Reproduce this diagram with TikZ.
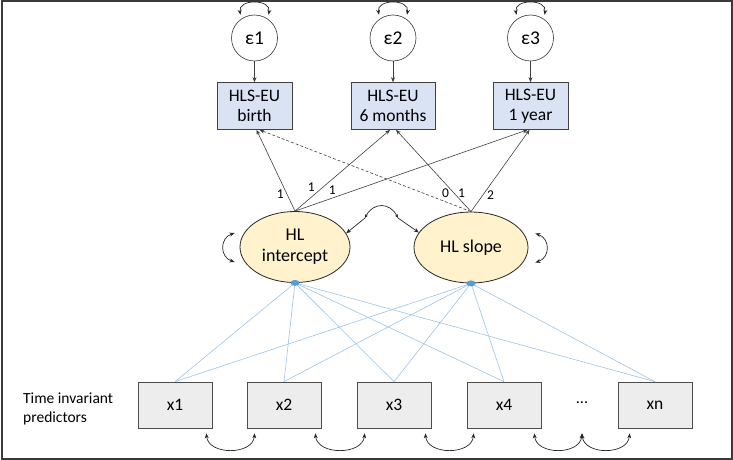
\documentclass[tikz,border=0pt]{standalone}
\usepackage{fontspec}
\setmainfont{Carlito}
\usetikzlibrary{arrows.meta,shapes.geometric,calc}
\definecolor{obsfill}{HTML}{DAE3F3}
\definecolor{latfill}{HTML}{FFF2CC}
\definecolor{predfill}{HTML}{EDEDED}
\definecolor{bluel}{HTML}{9DC3E6}
\definecolor{bluedot}{HTML}{5B9BD5}
\definecolor{framec}{HTML}{3A3A3A}
\begin{document}
\begin{tikzpicture}[x=1pt,y=-1pt,
  tip/.style={-{Stealth[length=5pt,width=4pt]}},
  dtip/.style={{Stealth[length=5pt,width=4pt]}-{Stealth[length=5pt,width=4pt]}},
  stip/.style={{Stealth[length=3.5pt,width=3pt]}-{Stealth[length=3.5pt,width=3pt]}},
  errc/.style={circle,draw=black!80,line width=0.6pt,minimum size=46pt,inner sep=0pt,font=\fontsize{19.5}{22}\selectfont},
  obs/.style={rectangle,draw=black!75,line width=0.7pt,fill=obsfill,minimum height=47pt,align=center,inner sep=0pt,font=\fontsize{17.5}{20.5}\selectfont},
  lat/.style={ellipse,draw=black!85,line width=0.8pt,fill=latfill,minimum height=71pt,inner sep=0pt,align=center,font=\fontsize{18}{21}\selectfont},
  pred/.style={rectangle,draw=black!70,line width=0.7pt,fill=predfill,minimum width=74pt,minimum height=46pt,inner sep=0pt,font=\fontsize{17.5}{20}\selectfont},
  load/.style={draw=black!75,line width=0.6pt,tip},
  reg/.style={draw=bluel,line width=0.6pt},
  curv/.style={draw=black!85,line width=0.7pt},
  lbl/.style={font=\fontsize{13.5}{15}\selectfont,inner sep=1pt}
]
\useasboundingbox (0,0) rectangle (733,460);
\draw[line width=2pt,draw=framec] (1.5,1.5) rectangle (731.5,458.5);

% error terms
\node[errc] (e1) at (254.5,38) {ε1};
\node[errc] (e2) at (393,38) {ε2};
\node[errc] (e3) at (530.5,38) {ε3};

% observed
\node[obs,minimum width=75pt] (b1) at (254.5,106) {HLS-EU\\birth};
\node[obs,minimum width=84pt] (b2) at (393,106) {HLS-EU\\6 months};
\node[obs,minimum width=75pt] (b3) at (530.5,106) {HLS-EU\\1 year};

% latent
\node[lat,minimum width=110pt] (li) at (295,247) {HL\\intercept};
\node[lat,minimum width=114pt] (ls) at (471,247.5) {HL slope};

% predictors
\node[pred] (p1) at (175,405) {x1};
\node[pred] (p2) at (284,405) {x2};
\node[pred] (p3) at (394,405) {x3};
\node[pred] (p4) at (504,405) {x4};
\node[font=\fontsize{16}{20}\selectfont] (dots) at (582,403) {...};
\node[pred] (pn) at (655,405) {xn};
\node[anchor=west,align=left,font=\fontsize{15.5}{18.5}\selectfont,inner sep=0pt] (tip-label) at (23,409) {Time invariant\\predictors};

% error arrows
\foreach \i in {1,2,3}{
  \draw[load] (e\i.south) -- (b\i.north);
  \draw[curv,dtip] ([xshift=-14pt]e\i.north) .. controls +(-3,-16) and +(3,-16) .. ([xshift=14pt]e\i.north);
}

% loadings
\draw[load] (li.north) -- ([xshift=2pt]b1.south) node[lbl,pos=0.21,left=2pt] {1};
\draw[load] (li.north) -- ([xshift=-3pt]b2.south) node[lbl,pos=0.22,above left=0pt] {1};
\draw[load] (li.north) -- ([xshift=-3pt]b3.south) node[lbl,pos=0.16,above=2pt] {1};
\draw[load,dash pattern=on 3pt off 2pt] (ls.north) -- ([xshift=5pt]b1.south) node[lbl,pos=0.12,above=3pt] {0};
\draw[load] (ls.north) -- ([xshift=3pt]b2.south) node[lbl,pos=0.23,right=3pt] {1};
\draw[load] (ls.north) -- ([xshift=-1pt]b3.south) node[lbl,pos=0.2,right=3pt] {2};

% latent covariance
\coordinate (ca) at (365,218);
\coordinate (cb) at (398,218);
\draw[curv,tip] (ca) -- (li.15);
\draw[curv,tip] (cb) -- (ls.164);
\draw[curv,stip] (ca) .. controls +(8,-16) and +(-8,-16) .. (cb);

% latent variances
\draw[curv,dtip] ($(li.west)+(-5,-14)$) .. controls +(-15,5) and +(-15,-5) .. ($(li.west)+(-5,15)$);
\draw[curv,dtip] ($(ls.east)+(7,-14)$) .. controls +(15,5) and +(15,-5) .. ($(ls.east)+(7,15)$);

% regressions
\foreach \p in {p1,p2,p3,p4,pn}{
  \draw[reg] (li.south) -- (\p.north);
  \draw[reg] (ls.south) -- (\p.north);
}
\fill[bluedot] (li.south) ellipse (4.5pt and 3pt);
\fill[bluedot] (ls.south) ellipse (4.5pt and 3pt);

% predictor covariances
\coordinate (dq) at (dots|-p4.south);
\draw[curv,dtip] ($(p1.south east)+(-6,5)$) .. controls +(2,22) and +(-2,22) .. ($(p2.south west)+(8,5)$);
\draw[curv,dtip] ($(p2.south east)+(-6,5)$) .. controls +(2,22) and +(-2,22) .. ($(p3.south west)+(8,5)$);
\draw[curv,dtip] ($(p3.south east)+(-6,5)$) .. controls +(2,22) and +(-2,22) .. ($(p4.south west)+(7,5)$);
\draw[curv,dtip] ($(p4.south east)+(-7,5)$) .. controls +(2,22) and +(-2,22) .. ($(dq)+(0,5)$);
\draw[curv,dtip] ($(dq)+(0,5)$) .. controls +(2,22) and +(-2,22) .. ($(pn.south west)+(12,5)$);
\end{tikzpicture}
\end{document}
